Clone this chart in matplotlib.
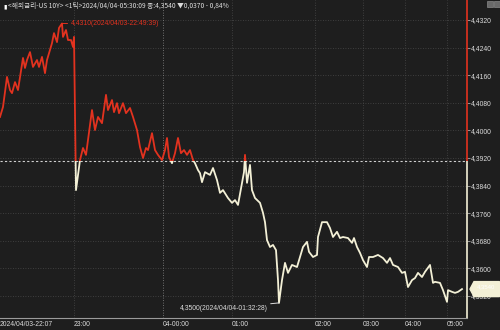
import matplotlib
matplotlib.use("Agg")
import matplotlib.pyplot as plt
from matplotlib.patches import Rectangle, Polygon
from matplotlib.transforms import blended_transform_factory
import numpy as np

# ---------------- data ----------------
tick_idx = [0, 3, 7, 10, 12, 15, 18, 20, 23, 25, 27, 30, 33, 37, 39, 42, 45, 47, 50, 52,
            54, 57, 59, 62, 63, 66, 68, 71, 73, 74,
            76, 78, 80, 83, 86, 88, 92, 95, 98, 102, 106, 108, 112, 114, 117, 119, 123, 126,
            130, 133, 137, 140, 143, 146, 148, 152, 155, 158, 162, 165, 167, 169, 172, 175,
            178, 181, 184, 187, 190, 193, 195, 198, 200, 202, 205, 210, 213, 217, 220, 223,
            228, 232, 235, 238, 242, 244, 245, 247, 250, 252, 255, 260, 263, 265, 267, 270,
            273, 276, 278, 279, 282, 285, 288, 292, 297, 300, 303, 307, 309, 313, 317, 318,
            322, 327, 330, 333, 337, 340, 343, 348, 352, 354, 357, 360, 363, 367, 369, 373,
            378, 383, 387, 390, 393, 398, 402, 405, 408, 412, 415, 418, 422, 425, 430, 433,
            435, 440, 443, 447, 448, 452, 455, 458, 462]
values = [4.4039, 4.4068, 4.4155, 4.4117, 4.4108, 4.4140, 4.4117, 4.4155, 4.4210, 4.4181,
          4.4204, 4.4227, 4.4184, 4.4204, 4.4184, 4.4213, 4.4166, 4.4204, 4.4233, 4.4253,
          4.4282, 4.4256, 4.4297, 4.4310, 4.4271, 4.4291, 4.4262, 4.4262, 4.4242, 4.4271,
          4.3827, 4.3871, 4.3914, 4.3949, 4.3929, 4.3972, 4.4059, 4.4001, 4.4039, 4.4021,
          4.4103, 4.4059, 4.4088, 4.4053, 4.4079, 4.4050, 4.4079, 4.4050,
          4.4065, 4.4039, 4.4001, 4.3952, 4.3920, 4.3949, 4.3943, 4.3992, 4.3943, 4.3929,
          4.3914, 4.3943, 4.3978, 4.3923, 4.3905, 4.3934,
          4.3978, 4.3934, 4.3943, 4.3929, 4.3943, 4.3914, 4.3905, 4.3885, 4.3876, 4.3850,
          4.3879, 4.3871, 4.3891, 4.3856, 4.3819, 4.3827,
          4.3804, 4.3790, 4.3798, 4.3784, 4.3848, 4.3879, 4.3929, 4.3848, 4.3900, 4.3827,
          4.3804, 4.3790, 4.3761, 4.3734, 4.3682, 4.3662,
          4.3668, 4.3653, 4.3566, 4.3500, 4.3566, 4.3616, 4.3587, 4.3610, 4.3604, 4.3633,
          4.3662, 4.3677, 4.3648, 4.3633, 4.3639, 4.3691,
          4.3734, 4.3734, 4.3717, 4.3691, 4.3706, 4.3688, 4.3691, 4.3688, 4.3674, 4.3688,
          4.3662, 4.3645, 4.3624, 4.3604, 4.3633, 4.3633,
          4.3639, 4.3630, 4.3616, 4.3630, 4.3610, 4.3604, 4.3587, 4.3590, 4.3546, 4.3566,
          4.3572, 4.3587, 4.3575, 4.3590, 4.3610, 4.3558,
          4.3561, 4.3558, 4.3537, 4.3503, 4.3537, 4.3532, 4.3529, 4.3532, 4.3540]

prev_close = 4.3910
last_price = 4.3540
time_tick_pos = [0, 74, 163, 232, 315, 363, 405, 447]
time_tick_labels = ["2024/04/03-22:07", "23:00", "04-00:00", "01:00", "02:00", "03:00", "04:00", "05:00"]
y_ticks = [4.3520, 4.3600, 4.3680, 4.3760, 4.3840, 4.3920, 4.4000, 4.4080, 4.4160, 4.4240, 4.4320]
title = "<해외금리-US 10Y> <1틱>2024/04/04-05:30:09 종:4,3540 ▼0,0370 - 0,84%"
max_label = "4,4310(2024/04/03-22:49:39)"
min_label = "4,3500(2024/04/04-01:32:28)"

# ---------------- style ----------------
BG = "#1e1e1e"
RED = "#e2321f"
CREAM = "#f3f0d6"
GRID = "#4a4a4a"
TXT = "#dcdcdc"
NARROW = ["Liberation Sans", "DejaVu Sans"]
KR = ["Noto Sans CJK KR", "DejaVu Sans"]
FS = 4.9

fig = plt.figure(figsize=(5.0, 3.3), dpi=100, facecolor=BG)
ax = fig.add_axes([0.0, 1 - 318 / 330, 467 / 500, 318 / 330])
ax.set_facecolor(BG)

x_max = 467
y_lo, y_hi = 4.34562, 4.43780
ax.set_xlim(0, x_max)
ax.set_ylim(y_lo, y_hi)

x = np.array(tick_idx, dtype=float)
v = np.array(values)

# grid
for yt in y_ticks:
    ax.axhline(yt, color=GRID, lw=0.6, ls=(0, (1, 2)), zorder=1)
for i, xt in enumerate(time_tick_pos[1:]):
    col = "#8a8a8a" if time_tick_labels[i + 1].startswith("04-") else GRID
    ax.axvline(xt, color=col, lw=0.6, ls=(0, (1, 2)), zorder=1)

# prev close reference line
ax.axhline(prev_close, color="#cfcfcf", lw=0.8, ls=(0, (2, 2)), zorder=2)

# line coloured by side of prev close
line_r, = ax.plot(x, v, color=RED, lw=1.3, zorder=3)
line_w, = ax.plot(x, v, color=CREAM, lw=1.3, zorder=3)
clip_up = Rectangle((0, prev_close), x_max, y_hi - prev_close, transform=ax.transData)
clip_dn = Rectangle((0, y_lo), x_max, prev_close - y_lo, transform=ax.transData)
line_r.set_clip_path(clip_up)
line_w.set_clip_path(clip_dn)

# right axis line: red above prev close, cream below
ax.vlines(x_max - 0.5, prev_close, y_hi, color=RED, lw=1.2, zorder=4, clip_on=False)
ax.vlines(x_max - 0.5, y_lo, prev_close, color=CREAM, lw=1.2, zorder=4, clip_on=False)

# spines
for s in ["top", "left", "right"]:
    ax.spines[s].set_visible(False)
ax.spines["bottom"].set_color("#9a9a9a")
ax.spines["bottom"].set_linewidth(0.8)

# y axis right
ax.yaxis.tick_right()
ax.set_yticks(y_ticks)
ax.set_yticklabels([f"{t:.4f}".replace(".", ",") for t in y_ticks], fontsize=FS,
                   color=TXT, family=NARROW)
ax.tick_params(axis="y", direction="out", length=2.0, width=0.6, color="#aaaaaa", pad=1)

# x axis
ax.set_xticks(time_tick_pos)
ax.set_xticklabels(time_tick_labels, fontsize=FS, color=TXT, family=NARROW, ha="left")
ax.tick_params(axis="x", length=0, pad=2.5)

# max / min annotations
imax = int(np.argmax(v))
imin = int(np.argmin(v))
ax.annotate(max_label, xy=(x[imax], v[imax]), xytext=(6, 0), textcoords="offset points",
            color=RED, fontsize=FS, family=NARROW, ha="left", va="center",
            arrowprops=dict(arrowstyle="-", color=RED, lw=0.7, shrinkA=0, shrinkB=0), zorder=5)
ax.annotate(min_label, xy=(x[imin], v[imin]), xytext=(-8, -4), textcoords="offset points",
            color=TXT, fontsize=FS, family=NARROW, ha="right", va="center",
            arrowprops=dict(arrowstyle="-", color=TXT, lw=0.7, shrinkA=0, shrinkB=0), zorder=5,
            annotation_clip=False)

# title
fig.text(3 / 500, 1 - 6 / 330, "▮", fontsize=4.5, color="#ffffff", family=KR, va="center")
fig.text(8 / 500, 1 - 6 / 330, title, fontsize=4.8, color=TXT, family=KR, va="center")

# small buttons top right
for bx in [487, 494]:
    fig.add_artist(Rectangle((bx / 500, 1 - 7 / 330), 6 / 500, 6 / 330,
                             transform=fig.transFigure, facecolor="#6a6a6a",
                             edgecolor="#9a9a9a", lw=0.4))

# current price box
tb = blended_transform_factory(fig.transFigure, ax.transData)
h = 7.5 / 3450
poly = Polygon([(470 / 500, last_price), (474 / 500, last_price + h), (0.999, last_price + h),
                (0.999, last_price - h), (474 / 500, last_price - h)], closed=True,
               transform=tb, facecolor=CREAM, edgecolor=CREAM, clip_on=False, zorder=10)
fig.add_artist(poly)
fig.text(486 / 500, last_price + h * 0.35, f"{last_price:.4f}".replace(".", ","),
         transform=tb, fontsize=4.3, color="#ffffff", family=NARROW,
         ha="center", va="center", zorder=11)

fig.savefig("out.png", dpi=100, facecolor=BG)
